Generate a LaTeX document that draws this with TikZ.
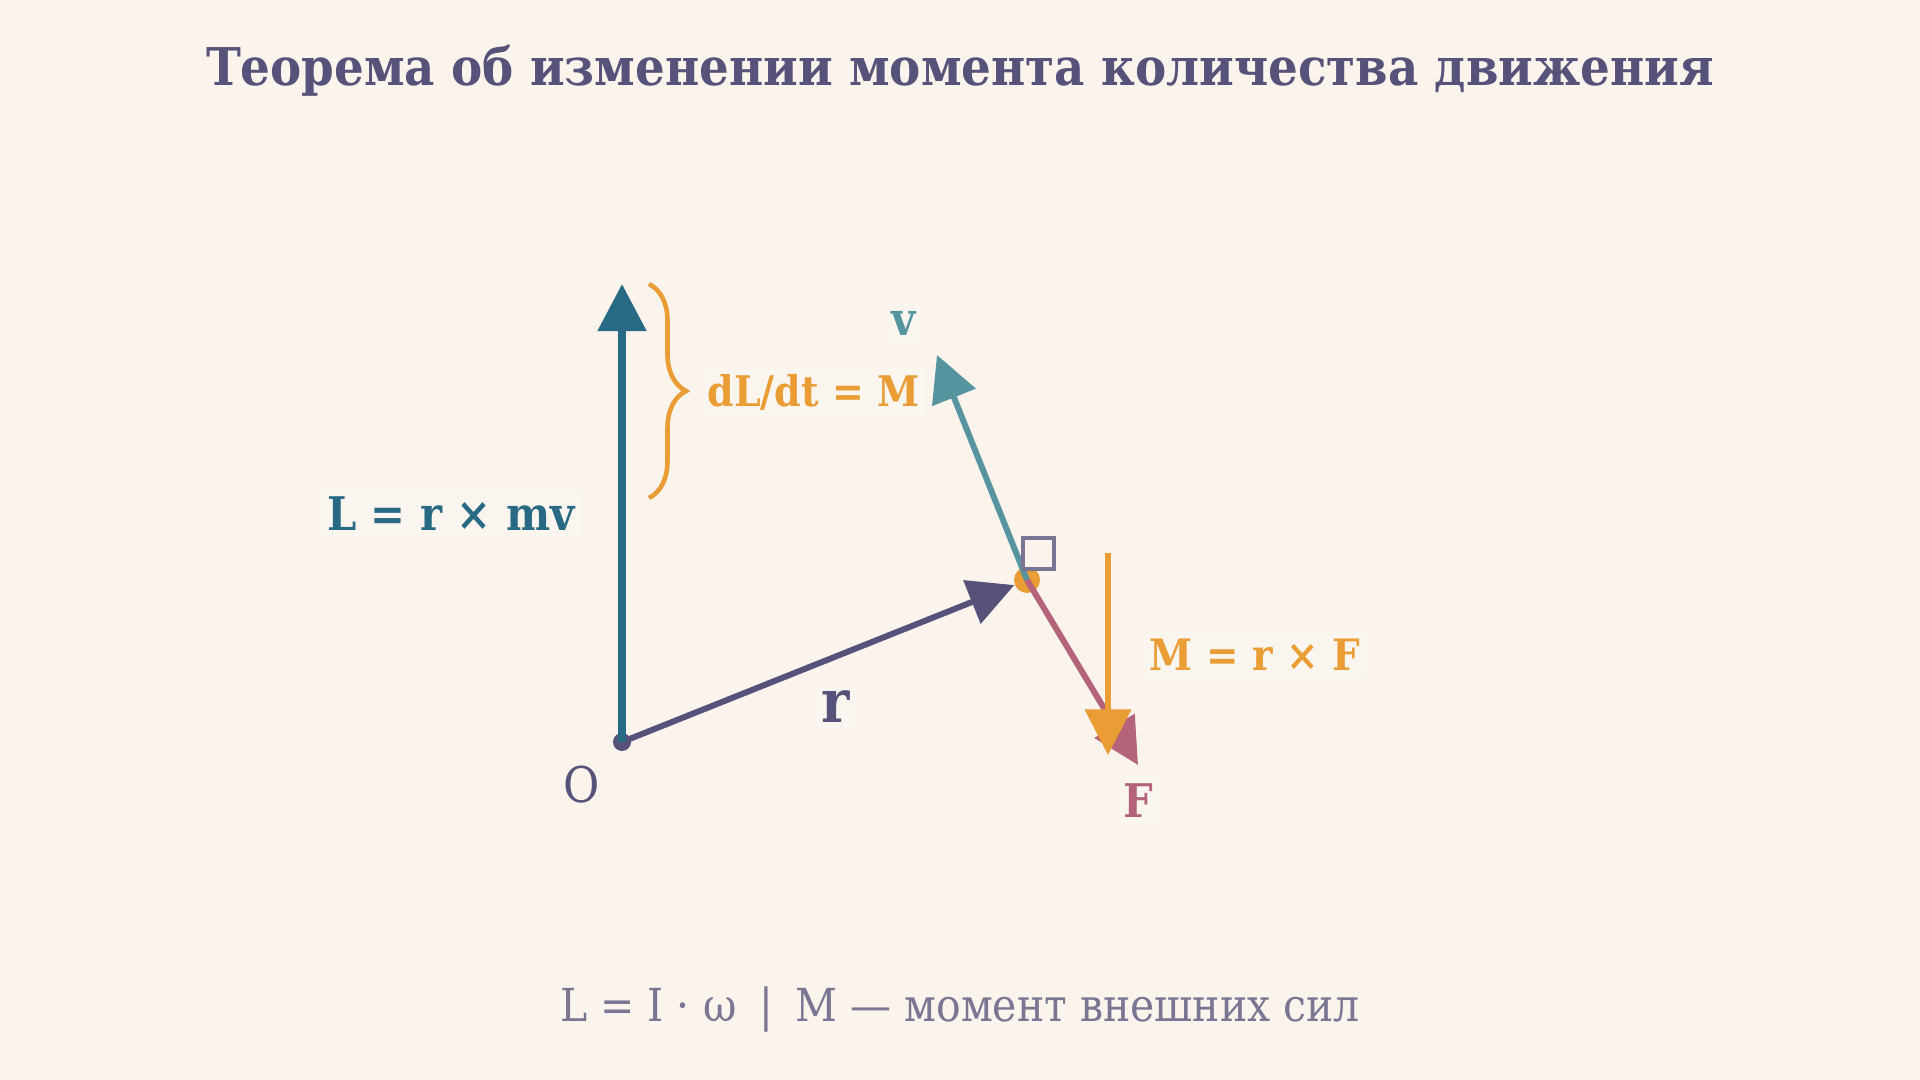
\documentclass[tikz,border=0pt]{standalone}
\usepackage{fontspec}
\setmainfont{DejaVu Serif Condensed}
\usetikzlibrary{arrows.meta,decorations.pathreplacing}
\definecolor{bg}{HTML}{FAF4ED}
\definecolor{lblbg}{HTML}{FAF5EF}
\definecolor{ink}{HTML}{575279}
\definecolor{pine}{HTML}{286983}
\definecolor{foam}{HTML}{56949F}
\definecolor{love}{HTML}{B4637A}
\definecolor{gold}{HTML}{EA9D34}
\definecolor{subtle}{HTML}{797593}

\begin{document}
\begin{tikzpicture}[
  vec/.style={line width=1.7pt, -{Triangle[length=13pt,width=13pt]}},
  lbl/.style={font=\fontsize{13.2}{16}\selectfont\bfseries, fill=lblbg, inner sep=2pt},
]
\fill[bg] (0,0) rectangle (19.2,10.8);
\useasboundingbox (0,0) rectangle (19.2,10.8);

\node[text=ink, font=\fontsize{14.8}{18}\selectfont\bfseries] (title) at (9.6,10.09) {Теорема об изменении момента количества движения};

\node[circle, fill=ink, inner sep=0pt, minimum size=0.18cm] (O) at (6.22,3.38) {};
\node[circle, fill=gold, inner sep=0pt, minimum size=0.26cm] (P) at (10.27,5.00) {};
\coordinate (Lend) at (6.22,7.96);
\coordinate (Vend) at (9.37,7.25);
\coordinate (Fend) at (11.38,3.15);
\coordinate (Mtop) at (11.08,5.27);
\coordinate (Mend) at (11.08,3.25);

\node[lbl, text=pine] (Llbl) at (4.51,5.66) {L = r × mv};
\node[lbl, text=gold, anchor=west, font=\fontsize{12}{14}\selectfont\bfseries] (dLlbl) at (7.00,6.88) {dL/dt = M};
\node[lbl, text=foam] (vlbl) at (9.04,7.57) {v};
\node[lbl, text=ink, font=\fontsize{17}{20}\selectfont\bfseries] (rlbl) at (8.36,3.73) {r};
\node[lbl, text=love] (Flbl) at (11.38,2.79) {F};
\node[lbl, text=gold, font=\fontsize{12.3}{14}\selectfont\bfseries] (Mlbl) at (12.55,4.25) {M = r × F};
\node[text=ink, font=\fontsize{14}{16}\selectfont] (Olbl) at (5.82,2.95) {O};

\draw[vec, ink] (O.center) -- (P);
\draw[pine, line width=2.3pt, -{Triangle[length=13.4pt,width=13.4pt]}] (O.center) -- (Lend);
\draw[vec, foam] (P.center) -- (Vend);
\draw[vec, love] (P.center) -- (Fend);
\draw[vec, gold] (Mtop) -- (Mend);
\draw[subtle, line width=0.9pt] (10.23,5.11) rectangle (10.54,5.42);

\draw[gold, line width=1.3pt, decorate, decoration={brace, amplitude=0.37cm}] (6.49,7.96) -- (6.49,5.82);

\node[text=subtle, font=\fontsize{12.95}{15}\selectfont] (foot) at (9.6,0.71) {L = I · ω\hspace{0.5em}|\hspace{0.5em}M — момент внешних сил};
\end{tikzpicture}
\end{document}
